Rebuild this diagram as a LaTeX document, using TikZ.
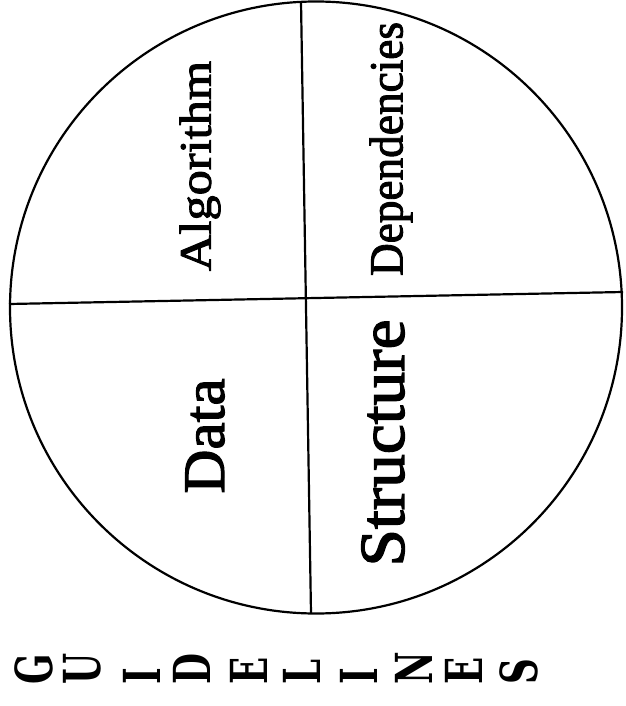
\documentclass[tikz,border=0pt]{standalone}
\usepackage{fontspec}
\setmainfont{Liberation Serif}
\newfontfamily\labfont[FakeBold=2]{Liberation Serif}
\newfontfamily\slabfont{DejaVu Serif}
\usepackage{graphicx}
\begin{document}
\begin{tikzpicture}[x=1pt,y=-1pt,
  lab/.style={rotate=90, inner sep=0pt, font=\labfont},
  letter/.style={rotate=90, inner sep=0pt, anchor=base west,
    font=\slabfont\bfseries\fontsize{51pt}{51pt}\selectfont},
  rule/.style={line width=2.2pt}]
\useasboundingbox (0,0) rectangle (625,706);
\node[draw, circle, minimum size=612pt, rule, inner sep=0pt] (c) at (316,307.5) {};
\coordinate (t) at (301,1.5);
\coordinate (b) at (311,613.5);
\coordinate (l) at (9,304);
\coordinate (r) at (623,292);
\draw[rule] (t) -- (b);
\draw[rule] (l) -- (r);
\node[lab] (alg) at (200,166) {\resizebox*{210pt}{41pt}{Algorithm}};
\node[lab] (dep) at (391,149) {\resizebox*{254pt}{43pt}{Dependencies}};
\node[lab] (dat) at (205,436) {\resizebox*{115pt}{39pt}{Data}};
\node[lab] (str) at (383,443) {\resizebox*{247pt}{43pt}{Structure}};
\node[letter] (g1) at (52,685) {\scalebox{0.7}[1]{G}};
\node[letter] (g2) at (100,685) {\scalebox{0.7}[1]{U}};
\node[letter] (g3) at (160,685) {\scalebox{0.7}[1]{I}};
\node[letter] (g4) at (210,685) {\scalebox{0.7}[1]{D}};
\node[letter] (g5) at (267,685) {\scalebox{0.7}[1]{E}};
\node[letter] (g6) at (320,685) {\scalebox{0.7}[1]{L}};
\node[letter] (g7) at (377,685) {\scalebox{0.7}[1]{I}};
\node[letter] (g8) at (432,685) {\scalebox{0.7}[1]{N}};
\node[letter] (g9) at (482,685) {\scalebox{0.7}[1]{E}};
\node[letter] (g10) at (537,685) {\scalebox{0.7}[1]{S}};
\end{tikzpicture}
\end{document}
